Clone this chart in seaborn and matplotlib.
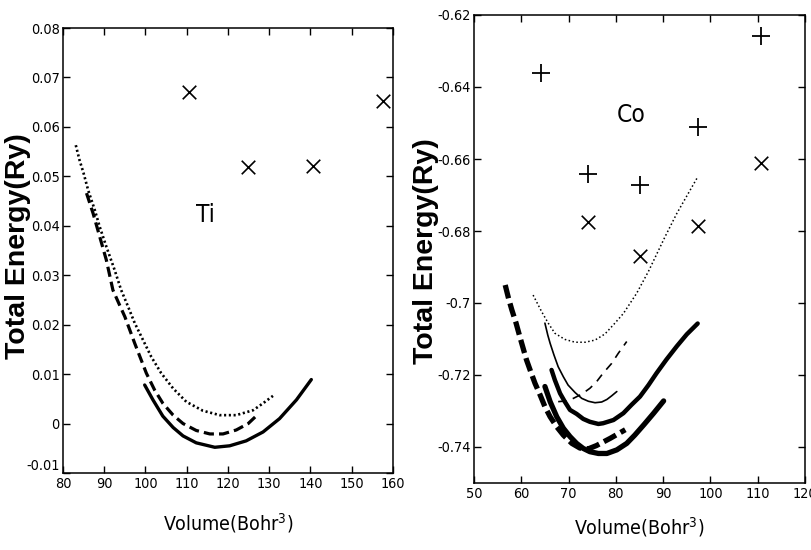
import matplotlib
matplotlib.use("Agg")
import matplotlib.pyplot as plt
from matplotlib import font_manager as fm
import seaborn as sns

# ---------------- Ti panel data ----------------
ti_dot_v = [83.1, 84.0, 85.0, 86.1, 87.7, 88.9, 90.5, 92.5, 94.1, 95.8, 97.4, 99.4, 101.4, 103.8,
            106.7, 109.9, 113.9, 118.0, 122.0, 126.1, 128.5, 130.9]
ti_dot_e = [0.0563, 0.0533, 0.0506, 0.0472, 0.0432, 0.0398, 0.0358, 0.0311, 0.0270, 0.0236, 0.0203,
            0.0169, 0.0135, 0.0102, 0.0071, 0.0044, 0.0026, 0.0017, 0.0017, 0.0027, 0.0041, 0.0056]

ti_dash_v = [85.7, 87.3, 88.9, 90.5, 92.1, 93.7, 95.0, 96.2, 97.4, 98.8, 100.2, 102.2, 104.2, 106.7,
             109.1, 112.3, 115.6, 118.8, 122.0, 124.9, 127.3]
ti_dash_e = [0.0466, 0.0425, 0.0378, 0.0331, 0.0270, 0.0240, 0.0216, 0.0189, 0.0162, 0.0132, 0.0102,
             0.0068, 0.0041, 0.0017, 0.0000, -0.0014, -0.0021, -0.0021, -0.0013, 0.0000, 0.0019]

ti_solid_v = [99.8, 101.8, 104.2, 106.7, 109.1, 112.3, 116.8, 120.4, 124.4, 128.5, 132.5, 136.6, 140.2]
ti_solid_e = [0.0078, 0.0048, 0.0015, -0.0008, -0.0025, -0.0039, -0.0048, -0.0045, -0.0035, -0.0017,
              0.0010, 0.0048, 0.0089]

ti_x_v = [110.5, 124.8, 140.6, 157.6]
ti_x_e = [0.0671, 0.0519, 0.0521, 0.0652]

# ---------------- Co panel data ----------------
co_dot_v = [62.5, 64.3, 65.7, 67.1, 69.2, 71.4, 73.5, 75.6, 77.7, 79.8, 81.6, 84.4, 86.9, 90.4, 92.9, 97.3]
co_dot_e = [-0.6978, -0.7024, -0.7056, -0.7084, -0.7101, -0.7109, -0.7109, -0.7103, -0.7086, -0.7056,
            -0.7029, -0.6973, -0.6912, -0.6816, -0.6751, -0.6650]

co_thin_v = [65.0, 65.6, 66.1, 66.9, 67.8, 68.9, 69.9, 71.4, 72.8, 74.2, 75.6, 77.0, 78.1, 79.1, 80.2]
co_thin_e = [-0.7056, -0.7089, -0.7112, -0.7144, -0.7177, -0.7205, -0.7228, -0.7249, -0.7265, -0.7273,
             -0.7277, -0.7275, -0.7268, -0.7258, -0.7246]

co_thindash_v = [67.8, 69.6, 71.0, 72.8, 74.5, 75.9, 77.3, 79.1, 80.5, 82.3]
co_thindash_e = [-0.7274, -0.7272, -0.7265, -0.7253, -0.7237, -0.7219, -0.7195, -0.7168, -0.7140, -0.7107]

co_thick1_v = [66.4, 67.1, 68.2, 69.2, 70.3, 71.7, 73.1, 74.5, 76.3, 77.3, 79.5, 81.6, 83.3, 85.1,
               86.9, 88.6, 90.7, 92.9, 95.0, 97.3]
co_thick1_e = [-0.7186, -0.7214, -0.7251, -0.7274, -0.7297, -0.7308, -0.7322, -0.7330, -0.7336, -0.7334,
               -0.7325, -0.7306, -0.7283, -0.7260, -0.7228, -0.7195, -0.7157, -0.7120, -0.7087, -0.7057]

co_thick2_v = [65.0, 66.1, 67.5, 68.9, 70.3, 71.7, 73.1, 74.5, 76.3, 78.1, 80.2, 82.3, 84.0, 86.0, 88.0, 90.1]
co_thick2_e = [-0.7232, -0.7274, -0.7316, -0.7348, -0.7371, -0.7390, -0.7404, -0.7413, -0.7418, -0.7418,
               -0.7408, -0.7390, -0.7367, -0.7337, -0.7306, -0.7272]

co_thickdash_v = [56.6, 57.3, 58.0, 58.9, 59.7, 60.4, 61.1, 62.0, 62.9, 64.0, 65.0, 66.1, 67.5, 68.9,
                  70.7, 72.4, 74.2, 75.9, 78.8, 82.0]
co_thickdash_e = [-0.6950, -0.6987, -0.7019, -0.7056, -0.7094, -0.7126, -0.7158, -0.7191, -0.7223, -0.7256,
                  -0.7288, -0.7316, -0.7344, -0.7367, -0.7390, -0.7403, -0.7405, -0.7396, -0.7376, -0.7352]

co_plus_v = [64.2, 74.1, 85.2, 97.4, 110.7]
co_plus_e = [-0.6361, -0.6643, -0.6673, -0.6511, -0.6258]

co_x_v = [74.1, 85.2, 97.4, 110.7]
co_x_e = [-0.6776, -0.6869, -0.6787, -0.6611]

ti_xticks = [80, 90, 100, 110, 120, 130, 140, 150, 160]
ti_yticks = [-0.01, 0, 0.01, 0.02, 0.03, 0.04, 0.05, 0.06, 0.07, 0.08]
ti_ylabels = ["-0.01", "0", "0.01", "0.02", "0.03", "0.04", "0.05", "0.06", "0.07", "0.08"]
co_xticks = [50, 60, 70, 80, 90, 100, 110, 120]
co_yticks = [-0.74, -0.72, -0.70, -0.68, -0.66, -0.64, -0.62]
co_ylabels = ["-0.74", "-0.72", "-0.7", "-0.68", "-0.66", "-0.64", "-0.62"]

# ---------------- style ----------------
sns.set_style("ticks")
plt.rcParams["font.family"] = ["Liberation Sans", "DejaVu Sans"]
plt.rcParams["mathtext.default"] = "regular"
plt.rcParams["text.color"] = "black"
plt.rcParams["axes.labelcolor"] = "black"

# choose a narrow font for the MATLAB-like condensed labels
narrow_path, factor = None, 1.0
fonts = fm.fontManager.ttflist
for f in fonts:
    if f.name == "Liberation Sans Narrow" and f.style == "normal" and f.weight in (400, "normal"):
        narrow_path, factor = f.fname, 1.0
        break
if narrow_path is None:
    for f in fonts:
        if f.fname.endswith("DejaVuSansCondensed.ttf"):
            narrow_path, factor = f.fname, 0.8
            break
if narrow_path is None:
    for f in fonts:
        if f.name == "Liberation Sans" and f.style == "normal" and f.weight in (400, "normal"):
            narrow_path, factor = f.fname, 0.82
            break


def nfont(size):
    if narrow_path:
        return fm.FontProperties(fname=narrow_path, size=size * factor)
    return fm.FontProperties(family="DejaVu Sans", size=size * 0.8)


fig = plt.figure(figsize=(8.12, 5.5), dpi=100)
ax1 = fig.add_axes([63 / 812, 1 - 473 / 550, 330 / 812, 445 / 550])
ax2 = fig.add_axes([474 / 812, 1 - 483 / 550, 331 / 812, 468 / 550])


def curve(ax, v, e, lw, ls):
    sns.lineplot(x=v, y=e, ax=ax, color="black", lw=lw, linestyle=ls,
                 sort=False, estimator=None, legend=False)


# Ti
curve(ax1, ti_dot_v, ti_dot_e, 1.9, (0, (0.8, 1.0)))
curve(ax1, ti_dash_v, ti_dash_e, 2.3, (0, (3.2, 1.6)))
curve(ax1, ti_solid_v, ti_solid_e, 2.4, "-")
sns.scatterplot(x=ti_x_v, y=ti_x_e, ax=ax1, marker="x", color="black", s=95, linewidth=1.2, legend=False)
ax1.text(114.4, 0.0422, "Ti", fontproperties=nfont(22), ha="center", va="center")

# Co
curve(ax2, co_dot_v, co_dot_e, 1.1, (0, (1, 1.6)))
curve(ax2, co_thin_v, co_thin_e, 1.2, "-")
curve(ax2, co_thindash_v, co_thindash_e, 1.2, (0, (5, 4)))
curve(ax2, co_thick1_v, co_thick1_e, 3.2, "-")
curve(ax2, co_thick2_v, co_thick2_e, 3.8, "-")
curve(ax2, co_thickdash_v, co_thickdash_e, 3.8, (0, (2.6, 1.0)))
sns.scatterplot(x=co_plus_v, y=co_plus_e, ax=ax2, marker="+", color="black", s=180, linewidth=1.3, legend=False)
sns.scatterplot(x=co_x_v, y=co_x_e, ax=ax2, marker="x", color="black", s=95, linewidth=1.2, legend=False)
ax2.text(83.2, -0.6478, "Co", fontproperties=nfont(22), ha="center", va="center")

# axes formatting
ax1.set_xlim(80, 160)
ax1.set_ylim(-0.01, 0.08)
ax1.set_xticks(ti_xticks)
ax1.set_xticklabels([str(t) for t in ti_xticks])
ax1.set_yticks(ti_yticks)
ax1.set_yticklabels(ti_ylabels)

ax2.set_xlim(50, 120)
ax2.set_ylim(-0.75, -0.62)
ax2.set_xticks(co_xticks)
ax2.set_xticklabels([str(t) for t in co_xticks])
ax2.set_yticks(co_yticks)
ax2.set_yticklabels(co_ylabels)

for ax in (ax1, ax2):
    for s in ax.spines.values():
        s.set_linewidth(1.1)
        s.set_color("black")
        s.set_visible(True)
    ax.tick_params(direction="in", top=True, right=True, bottom=True, left=True,
                   length=5, width=1, colors="black")
    ax.tick_params(axis="x", pad=3)
    ax.tick_params(axis="y", pad=2.5)
    for lab in ax.get_xticklabels() + ax.get_yticklabels():
        lab.set_fontproperties(nfont(13))
    ax.set_xlabel("Volume(Bohr$^3$)", fontproperties=nfont(17.5))
    ax.set_ylabel("Total Energy(Ry)", fontsize=20.5, fontweight="bold",
                  fontfamily=["Liberation Sans", "DejaVu Sans"])
    ax.xaxis.label.set_va("center")
    ax.yaxis.label.set_va("center")

# the lowest Ti label sits slightly raised, as in the original
ax1.get_yticklabels()[0].set_va("bottom")

ax1.xaxis.set_label_coords(0.5, (473 - 523) / 445)
ax1.yaxis.set_label_coords((18 - 63) / 330, (473 - 246) / 445)
ax2.xaxis.set_label_coords(0.5, (483 - 527) / 468)
ax2.yaxis.set_label_coords((426 - 474) / 331, (483 - 251) / 468)

fig.savefig("out.png", dpi=100, facecolor="white")
